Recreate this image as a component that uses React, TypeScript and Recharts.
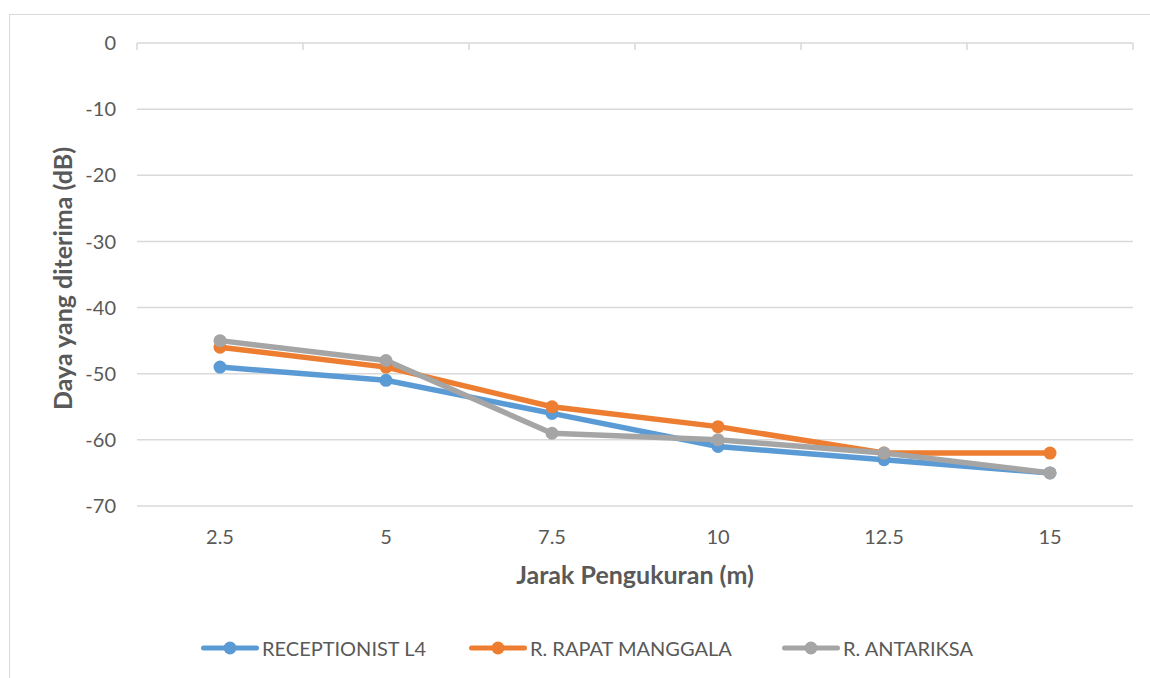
import React from 'react';
import { LineChart, Line, XAxis, YAxis, CartesianGrid, Legend } from 'recharts';

// Measurement distances (m) along the category axis
const distances = ['2.5', '5', '7.5', '10', '12.5', '15'];

// Received power (dB) per room
const receptionistL4 = [-49, -51, -56, -61, -63, -65];
const rapatManggala = [-46, -49, -55, -58, -62, -62];
const antariksa = [-45, -48, -59, -60, -62, -65];

const seriesKeys = ['receptionist', 'manggala', 'antariksa'];
const seriesNames = ['RECEPTIONIST L4', 'R. RAPAT MANGGALA', 'R. ANTARIKSA'];
const seriesColors = ['#5B9BD5', '#ED7D31', '#A5A5A5'];

const yTicks = [0, -10, -20, -30, -40, -50, -60, -70];

const rows = distances.map((d, i) => ({
  jarak: d,
  receptionist: receptionistL4[i],
  manggala: rapatManggala[i],
  antariksa: antariksa[i],
}));

const fontFamily = 'Lato, "Open Sans", sans-serif';
const textColor = '#595959';
const gridColor = '#d9d9d9';

const legendLeft = [201, 469, 782];

// Tick marks drawn between categories along the 0 line
const BoundaryTick = (props: any) => {
  const { y, payload, index, visibleTicksCount } = props;
  const half = payload && payload.offset ? payload.offset : 0;
  const c = payload ? payload.coordinate : 0;
  const marks = [c - half];
  if (index === visibleTicksCount - 1) marks.push(c + half);
  return (
    <g>
      {marks.map((mx, i) => (
        <line key={i} x1={mx} y1={y} x2={mx} y2={y + 7} stroke={gridColor} strokeWidth={1.5} />
      ))}
    </g>
  );
};

const renderLegend = () => (
  <div style={{ position: 'relative', width: 1150, height: 26 }}>
    {seriesNames.map((name, i) => (
      <div
        key={name}
        style={{
          position: 'absolute',
          left: legendLeft[i],
          top: 0,
          height: 26,
          display: 'flex',
          alignItems: 'center',
        }}
      >
        <svg width={58} height={26} style={{ display: 'block' }}>
          <line x1={2.5} y1={13} x2={55.5} y2={13} stroke={seriesColors[i]} strokeWidth={5} strokeLinecap="round" />
          <circle cx={29} cy={13} r={6.5} fill={seriesColors[i]} />
        </svg>
        <span
          style={{
            marginLeft: 3,
            fontFamily,
            fontSize: 20,
            color: textColor,
            whiteSpace: 'nowrap',
            lineHeight: '26px',
          }}
        >
          {name}
        </span>
      </div>
    ))}
  </div>
);

const renderYTitle = (props: any) => {
  const vb = props.viewBox || { x: 0, y: 0, width: 0, height: 0 };
  const cx = 62;
  const cy = vb.y + vb.height / 2 + 4;
  return (
    <text
      x={cx}
      y={cy}
      transform={`rotate(-90 ${cx} ${cy})`}
      textAnchor="middle"
      dominantBaseline="central"
      fontFamily={fontFamily}
      fontSize={25}
      fontWeight={700}
      fill={textColor}
    >
      Daya yang diterima (dB)
    </text>
  );
};

export default function App() {
  return (
    <div
      style={{
        position: 'fixed',
        left: 0,
        top: 0,
        width: 1150,
        height: 678,
        background: '#ffffff',
        overflow: 'hidden',
      }}
    >
      <div
        style={{
          position: 'absolute',
          left: 8.5,
          top: 13.5,
          width: 1200,
          height: 700,
          border: `1.5px solid ${gridColor}`,
          boxSizing: 'border-box',
        }}
      />
      <div style={{ position: 'absolute', left: 0, top: 0 }}>
        <LineChart width={1150} height={678} data={rows} margin={{ top: 42, right: 17, bottom: 82, left: 0 }}>
          <CartesianGrid xAxisId="cat" vertical={false} stroke={gridColor} strokeWidth={1.5} />
          <XAxis
            xAxisId="edge"
            dataKey="jarak"
            scale="band"
            orientation="top"
            height={1}
            axisLine={false}
            tickLine={false}
            tickSize={0}
            tickMargin={0}
            interval={0}
            tick={<BoundaryTick />}
          />
          <XAxis
            xAxisId="cat"
            dataKey="jarak"
            scale="band"
            height={90}
            axisLine={false}
            tickLine={false}
            tickSize={0}
            tickMargin={24}
            interval={0}
            tick={{ fill: textColor, fontSize: 20, fontFamily }}
            label={{
              value: 'Jarak Pengukuran (m)',
              position: 'insideBottom',
              offset: 12,
              style: { fill: textColor, fontSize: 25, fontWeight: 700, fontFamily },
            }}
          />
          <YAxis
            domain={[-70, 0]}
            ticks={yTicks}
            width={137}
            axisLine={false}
            tickLine={false}
            tickSize={0}
            tickMargin={21}
            tick={{ fill: textColor, fontSize: 20, fontFamily }}
            label={{ content: renderYTitle }}
          />
          <Legend
            verticalAlign="middle"
            align="center"
            layout="horizontal"
            content={renderLegend}
            wrapperStyle={{ top: 635, left: 0, width: 1150, height: 26 }}
          />
          {seriesKeys.map((k, i) => (
            <Line
              key={k}
              xAxisId="cat"
              type="linear"
              dataKey={k}
              name={seriesNames[i]}
              stroke={seriesColors[i]}
              strokeWidth={5.5}
              dot={{ r: 6.5, fill: seriesColors[i], stroke: seriesColors[i], strokeWidth: 0 }}
              activeDot={false}
              isAnimationActive={false}
            />
          ))}
        </LineChart>
      </div>
    </div>
  );
}
